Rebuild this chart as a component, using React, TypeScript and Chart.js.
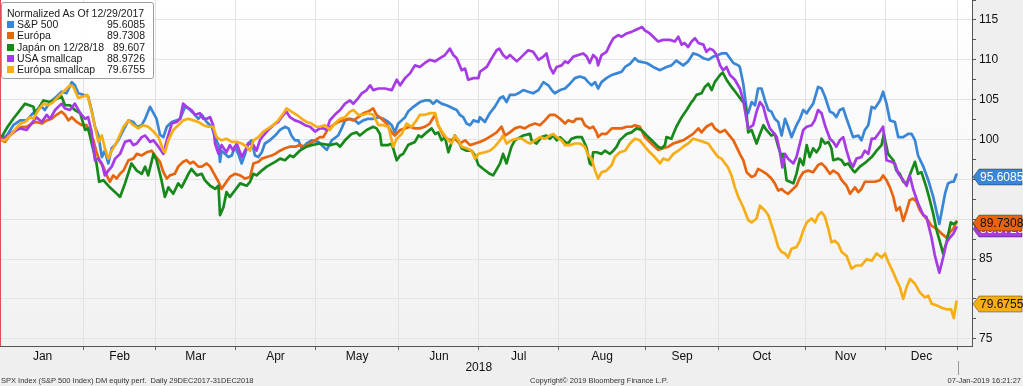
import React, { useEffect, useRef } from "react";
import { Chart, registerables } from "chart.js";

Chart.register(...registerables);

// ---------------- data (x = trading-day index from 29-Dec-2017, y = normalized level) -------------
const sp500: [number, number][] = [
  [0,100],[1.8,100.5],[3.5,101.8],[5.3,102.4],[7,102.4],[8.3,103.1],[9.6,103.7],[11,104.1],[11.8,103.7],[13.2,104.7],[14.9,105.4],[16.2,106],[17.5,105.8],[18.9,107.2],[19.7,106.8],[20.6,105.8],[21.9,105.6],[23.2,105.4],[24.1,103.7],[25,101.6],[25.9,100.5],[26.8,97.8],[27.6,98.6],[28.5,97],[29.4,98.9],[30.3,99.3],[31.1,99.9],[32.5,101.2],[33.8,102.4],[35.1,102.2],[36,101.6],[37.3,101.8],[38.2,102.6],[39.5,104.1],[40.4,103.3],[41.2,102.6],[42.1,100.6],[43,100.3],[43.9,101.6],[45.2,102.2],[46.5,102.4],[47.4,102.6],[48.7,104.1],[49.6,103.9],[50.9,103.3],[52.2,102.6],[53.1,103.1],[54.4,102.2],[55.7,101.6],[56.6,100.3],[57.5,99.3],[57.9,97.2],[58.3,98.6],[59.2,98.2],[60.1,97.8],[61,98],[61.8,99.1],[62.7,98.2],[63.6,97],[64.5,98.2],[65.3,99.5],[66.2,99.9],[67.1,98],[68,97.8],[68.9,98.4],[69.7,99.5],[71,99.9],[72.4,100.5],[73.7,101.2],[75,101.6],[75.9,101.4],[76.7,100.5],[77.6,99.9],[78.5,99.9],[79.4,98.9],[80.7,99.5],[82,99.9],[83.8,99.7],[84.2,99.5],[86,98.7],[87.3,99.9],[89,100.5],[89.9,101.4],[90.8,102.4],[92.1,102.6],[93.4,102.4],[94.3,102],[95.6,102.4],[96.9,102.6],[98.2,102.6],[99.6,102.8],[100.9,102.6],[102.2,102.2],[103.1,101.8],[103.9,100.9],[104.8,102],[105.7,102.4],[106.6,102.8],[107.4,103.5],[108.8,104.1],[110.5,104.7],[111.8,104.9],[113.1,104.9],[114,104.5],[114.9,104.9],[116.2,104.5],[117.5,104.3],[118.4,104.1],[119.3,103.9],[120.2,103.7],[121,103.1],[121.9,102.8],[122.8,102],[123.7,101.8],[124.6,102.4],[125.9,102.2],[126.3,102.8],[127.6,102.2],[128.9,103.3],[130.2,104.1],[131.6,105.2],[132.4,105.4],[133.3,104.7],[134.2,105.6],[135.5,105.6],[136.4,105.8],[137.7,106.2],[139,106],[140.3,105.8],[141.7,106.2],[143,107.2],[144.3,106.8],[145.2,106.2],[146,105.8],[147.4,106.2],[148.7,106.4],[150,107],[151.3,107.7],[152.6,107.9],[153.9,107.7],[154.8,107.2],[155.7,106.8],[156.6,107.2],[157.4,106.4],[158.3,107.2],[159.6,107.7],[161,108.1],[162.3,108.3],[163.6,108.5],[164.5,109.1],[165.8,109.5],[167.1,110.2],[168,109.8],[170.2,109.6],[171.9,109.1],[173.7,108.7],[175.4,109.1],[176.7,109.3],[178,109.9],[179.8,109.3],[181.1,109.8],[182.4,110.8],[183.8,110.6],[185.1,110.2],[186.4,110],[187.7,110.4],[189,110.6],[189.9,110.8],[191.2,110.8],[192.1,110.2],[193,109.6],[194.3,109.3],[194.7,109.1],[195.6,107],[196.5,103.7],[196.9,103.3],[197.8,104.7],[198.7,104.3],[199.5,106.4],[200.4,106.4],[201.3,104.9],[202.2,103.7],[203,103.5],[203.9,102.6],[204.8,102.2],[205.7,100.5],[206.6,102.6],[207.4,101.6],[208.3,100.3],[209.6,101.8],[210.5,102.6],[211.4,103.7],[212.3,103.3],[213.1,103.9],[214,104.5],[215.3,106.6],[216.2,106.4],[217.1,105.4],[218.4,103.5],[219.3,103.3],[220.1,102.8],[221,103.7],[221.9,103.9],[222.8,102.6],[223.7,101.4],[224.5,100.3],[225.9,100.5],[226.7,99.9],[227.6,101.2],[228.5,101.8],[229.4,104.1],[230.2,103.9],[231.6,104.9],[232.4,106],[233.3,104.5],[234.2,102.4],[235.5,102.2],[236.4,100.3],[237.7,100.3],[239,100.7],[239.9,100.7],[240.8,99.9],[241.6,98],[243,96.6],[244.3,94.9],[245.6,92.8],[247.2,89.4],[247.8,90.9],[248.7,93.2],[249.5,94.5],[250.4,94.7],[251,94.7],[251.7,95.6085]
];

const europa: [number, number][] = [
  [0,100],[1.3,99.7],[2.6,100.5],[4.4,101.2],[5.7,101.6],[7,101.6],[8.3,102],[9.6,102.2],[11,102],[12.3,102.4],[13.6,102.6],[14.9,103.1],[16.2,103.5],[17.1,103.1],[18,102.4],[18.9,102.8],[20.2,102.2],[21.5,101.8],[22.8,101.8],[23.7,100.7],[24.6,99.9],[25.4,98.4],[26.3,97.2],[27.2,96.6],[28.1,95.5],[28.9,94.7],[29.8,95.5],[30.7,95.1],[31.6,95.7],[32.5,96.1],[33.8,97.4],[35.1,97.6],[36,98.2],[37.3,98],[38.6,98.4],[39.9,98.6],[40.8,98],[42.1,97.2],[43,95.9],[43.9,95.1],[44.7,95.5],[46,95.7],[46.9,96.6],[48.2,97.2],[49.1,97.4],[50,97],[50.9,97.2],[52.2,96.6],[53.1,96.6],[54.4,97],[55.3,96.6],[56.1,95.9],[57.5,94.7],[58.3,93.8],[59.6,94.7],[60.5,95.3],[61.8,95.7],[63.2,95.5],[64.5,95.1],[65.8,95.3],[66.7,97],[68,97.2],[68.9,97.6],[70.2,97.8],[71.5,98],[72.4,98.2],[73.7,98.6],[75,98.9],[76.3,99.1],[77.6,99.1],[78.9,99.3],[80.3,99.1],[81.6,99.5],[82.9,99.9],[84.2,100.3],[85.1,100.3],[86.4,101.4],[87.7,101.8],[89,102.2],[90.3,102.4],[91.7,102.6],[93,102.4],[94.3,102.8],[95.6,103.3],[96.9,103.5],[98.2,103.9],[99.1,103.1],[100.4,102.6],[101.7,102],[103.1,100.9],[103.9,100.5],[105.3,101.2],[106.6,101.4],[107.9,101.6],[109.2,101.4],[110.5,101.4],[111.8,101.6],[113.1,102],[114.5,103.1],[115.3,101.8],[116.7,100.5],[117.5,100.1],[118.9,99.9],[119.7,100.1],[121,99.5],[122.4,99.9],[123.7,99.3],[125,99.5],[126.3,99.7],[128.1,100.1],[129.4,100.5],[130.7,100.9],[132,101.6],[132.9,100.5],[134.2,100.9],[135.5,101.4],[136.8,101.6],[138.1,101.4],[139.5,101.8],[140.8,102],[142.1,101.8],[143.4,102.4],[144.7,103.1],[146,103.1],[147.4,102.6],[148.7,102],[149.5,102.4],[150.9,102.2],[151.7,102.6],[153.1,102.6],[153.9,101.8],[155.2,101.4],[156.1,101.6],[157,100.9],[157.4,100.3],[158.3,100.7],[159.6,100.7],[161,101.4],[162.3,101.4],[163.6,101.4],[164.9,101.6],[166.2,101.6],[167.1,101.8],[168.4,101.6],[169.7,100.3],[171,99.7],[172.3,99.1],[173.2,98.7],[174.5,98.9],[175.9,99.1],[177.2,99.5],[178.5,99.7],[179.8,99.9],[181.1,100.3],[182.4,100.7],[183.8,101.4],[184.6,100.9],[185.9,101.6],[187.3,102],[188.1,101.4],[189.5,100.9],[190.8,101.2],[191.6,100.7],[193,99.9],[193.8,99.1],[194.7,98.2],[195.6,97.4],[196.5,95.9],[197.8,95.3],[198.7,95.5],[199.5,96.3],[200.4,96.1],[201.7,95.7],[203,95.1],[203.9,94.5],[204.8,93.6],[205.7,93.8],[206.6,93.4],[207.4,93.2],[208.3,93.6],[209.6,94.2],[210.5,95.2],[211.4,95.9],[212.7,96.1],[214,95.9],[215.3,96.8],[216.2,97],[217.1,96.6],[218.4,95.7],[219.3,96.1],[220.6,95.7],[221.5,94.9],[222.8,94.2],[223.7,93.2],[225,94],[225.9,93.4],[226.7,93.8],[227.6,94.7],[228.9,94.7],[230.2,94.7],[231.6,94.9],[232.4,95.5],[233.3,94.9],[234.2,94],[235.1,92.8],[235.9,91.1],[236.8,91.5],[237.7,89.8],[238.6,91.1],[239.4,92.4],[240.3,92.6],[241.2,92.2],[242.1,91.1],[243.4,90.3],[244.3,89.8],[245.1,89.2],[246.5,88.8],[247.8,88.2],[249.1,87.7],[250,88.4],[250.9,88.8],[251.7,89.7308]
];

const japan: [number, number][] = [
  [0,100],[2,101.6],[3.5,102.6],[6.6,104.5],[8.8,104.1],[9.2,103.1],[11.4,104.9],[13.2,104.7],[16.2,105.4],[17.1,104.3],[18.4,104.3],[19.7,103.7],[21.1,103.3],[22.4,101.2],[23.2,101.4],[25.4,97],[26.1,94.7],[27.2,94.9],[28.9,94],[30.3,93.4],[31.6,92.8],[32.9,94.5],[34.6,97],[36,96.1],[37.3,95.7],[38.2,96.6],[39,95.5],[40.4,98.2],[41.2,97.4],[42.5,94.9],[43.4,92.8],[44.3,94],[45.6,93.2],[46.9,94.5],[47.8,94],[49.6,95.7],[50.4,96.3],[51.8,95.5],[53.1,95.7],[53.9,94.9],[55.3,94.2],[56.6,93.8],[57.5,94.2],[57.9,90.5],[58.8,91.5],[59.6,93.4],[60.5,92.8],[61.8,93.6],[63.2,94.5],[64.9,94.2],[65.8,94.7],[66.7,95.7],[67.5,95.5],[68.9,96.1],[70.2,96.6],[72.4,97.2],[73.7,97.6],[75,97.4],[76.3,98],[77.2,97.8],[78.9,98.6],[80.7,99.1],[82,99.3],[84.2,99.5],[86.8,99.3],[88.6,99.5],[89.5,99.1],[90.8,99.9],[92.5,100.7],[93.8,100.9],[94.7,100.5],[96.5,101.2],[98.2,101.6],[99.1,101.4],[100,100.7],[100.4,99.3],[102.2,99.3],[103.1,99.5],[104.4,97.4],[105.3,98],[106.1,98.2],[107.4,99.3],[109.2,99.7],[110.1,100.5],[110.9,100.3],[112.3,100.9],[113.6,101.4],[114.5,100.7],[115.3,100.9],[116.2,99.9],[117.1,100.3],[118,98.4],[118.9,99.7],[119.7,100.5],[120.6,99.9],[121.5,98.9],[122.8,98.6],[124.1,98.6],[125,98],[125.9,96.8],[127.2,96.3],[128.9,95.7],[129.8,95.5],[131.6,97],[132.4,98.2],[133.3,97],[134.6,99.1],[135.5,99.9],[137.7,100.5],[139.5,100.7],[139.9,99.9],[141.2,99.5],[142.5,100.3],[143.8,100.5],[144.7,100.1],[145.6,100.5],[146.5,99.9],[147.4,100.3],[148.7,99.7],[149.5,99.5],[150.4,100.1],[151.7,100.3],[153.1,100.3],[153.9,99.5],[154.4,98.9],[155.2,97],[155.7,96.8],[156.1,98.4],[157,98.4],[158.3,98.2],[159.2,98.6],[160.5,98.2],[161.4,98.6],[162.3,99.1],[163.1,99.9],[164,100.3],[164.9,100.7],[166.2,100.9],[167.5,101.4],[168.8,101.2],[170.2,100.5],[171.5,99.9],[173.2,99.1],[174.1,98.9],[175,99.3],[175.4,100.3],[176.7,100.1],[177.2,100.7],[178,101.6],[179.4,102.8],[180.7,103.7],[182,104.7],[182.4,104.9],[183.3,105.6],[184.6,105.8],[185.5,106.6],[186.4,107],[187.3,106.2],[188.1,107.2],[189.5,108.1],[190.2,108.4],[191.2,107.5],[192.5,106.6],[193.8,105.8],[195.2,104.9],[196,104.5],[196.5,103.1],[196.9,100.9],[197.8,101.2],[199.1,99.5],[200,100.7],[200.9,101.8],[201.7,101.2],[203,100.5],[203.9,100.7],[204.8,99.1],[205.7,97.8],[206.1,98.2],[207,94.9],[208.8,94.5],[209.6,95.7],[210.5,97.6],[211.4,96.8],[212.3,99.3],[213.1,97.8],[214,98.9],[214.9,98.4],[215.8,99.1],[216.2,100.1],[217.1,99.5],[218,99.7],[218.8,98.9],[219.3,97.4],[220.6,97.6],[221.5,97.4],[222.3,96.8],[223.2,97],[224.5,96.1],[225,95.9],[226.3,96.6],[228,97.2],[229.4,97.8],[230.7,98.6],[232,99.3],[232.6,100.7],[233.7,98.2],[235.1,97.4],[235.9,96.1],[236.8,95.7],[237.7,94.7],[238.6,94.5],[239.9,96.1],[240.8,97.2],[241.6,95.7],[242.5,95.9],[243.8,94],[244.7,92.4],[245.6,90.7],[246.5,88.6],[247.4,87.1],[248.2,85.7],[249.1,87.1],[250.2,89.6],[250.9,89.4],[251.7,89.607]
];

const usaSmall: [number, number][] = [
  [0,100],[1.8,100.3],[3.5,101],[5.3,101.4],[7,101.2],[8.3,102],[9.6,102.8],[11,102.2],[12.3,103.1],[13.2,102.6],[14.5,103.7],[16.2,104.5],[17.1,103.9],[18.4,103.7],[19.7,104.5],[21.1,103.3],[22.4,102.6],[23.2,102.8],[24.1,101],[25,97.4],[25.9,97.6],[26.8,97],[27.6,95.5],[28.5,96.1],[29.4,96.6],[30.3,97.6],[31.6,98.2],[32.9,99.7],[34.2,99.9],[35.1,99.3],[36,99.5],[37.3,100.3],[38.2,100.5],[39.5,99.7],[40.4,99.9],[41.7,99.1],[43,98.2],[43.9,99.9],[45.2,102],[46.5,102.2],[47.4,102.6],[48.2,104.5],[49.1,104.1],[50.4,103.7],[51.3,103.1],[52.6,103.3],[53.5,102.6],[54.4,102.6],[55.3,102.8],[56.1,101.8],[56.6,99.5],[57.5,98.2],[58.3,99.3],[59.6,98.4],[60.5,99.3],[61.4,98.6],[62.3,99.5],[63.6,97.8],[64.5,98.6],[65.3,99.5],[66.7,99.3],[67.5,98.6],[68.4,99.9],[69.3,100.5],[70.6,101.2],[71.9,101.8],[73.2,102.2],[74.6,103.1],[75.4,103.5],[76.3,102.8],[77.6,102.4],[78.9,102.2],[80.3,101.8],[81.6,101.6],[82.9,101],[84.2,101.4],[85.1,101.4],[86,101.2],[86.8,102.4],[88.1,103.1],[89.5,103.7],[90.8,104.5],[92.1,104.9],[93,104.5],[94.3,105.2],[95.2,105.8],[96.5,106.2],[97.4,106.8],[98.2,106.2],[99.6,106.4],[101.3,106.4],[103.1,106.2],[104.4,107.5],[105.3,106.8],[106.6,107.7],[107.9,108.3],[109.2,109.3],[110.5,109.1],[111.8,109.6],[113.1,110],[114.5,109.8],[115.8,110.2],[117.1,110.6],[118.4,111.4],[119.3,110.6],[120.2,110.2],[121.5,108.7],[122.4,108.9],[123.2,107.5],[124.6,107.7],[125.9,107.7],[126.3,108.5],[128.1,109.1],[129.4,110.2],[130.7,111.2],[131.4,111.4],[132.4,110.6],[133.3,110.2],[134.2,110.6],[136,109.8],[137.3,110.4],[139,111.2],[140.3,111],[141.7,110],[143,110.4],[143.8,110.8],[144.7,109.1],[145.6,108.3],[146.5,109.1],[147.8,109.3],[148.7,109.8],[149.5,109.6],[150.9,110.4],[152.2,110.6],[153.5,110.8],[154.4,110.4],[155.2,109.6],[156.1,110.6],[157,110.2],[157.4,109.3],[158.3,110.6],[159.6,111],[160.5,111.9],[161.4,112.7],[162.7,113.1],[163.6,112.9],[164.9,113.3],[166.2,113.5],[167.1,113.7],[169,114.1],[169.7,113.7],[171,113.3],[172.3,112.7],[173.2,112.3],[174.5,112.5],[176.3,112.5],[177.6,112.3],[178.5,112.9],[179.4,111.9],[180.2,112.1],[181.1,111.6],[182,112.3],[182.9,112.7],[183.8,112.1],[185.1,111.9],[185.9,111],[186.8,111.4],[187.7,111.2],[188.6,110.6],[189.5,109.3],[190.3,108.7],[191.2,109.1],[192.1,108.1],[193.4,107.5],[194.7,106.4],[195.6,104.9],[196.5,102.4],[196.9,101.4],[198.2,101.8],[199.1,103.5],[200,104.7],[200.9,104.1],[201.7,102.6],[202.6,101.4],[203.5,100.9],[204.4,100.3],[205.2,98.6],[205.9,96.5],[206.6,98.2],[207.4,97.6],[208.8,97],[209.6,97.8],[211.4,101.2],[212.3,101.6],[213.6,101.8],[214.4,102.4],[215.3,103.7],[216.2,103.3],[217.1,101.8],[218.4,100.1],[219.3,99.7],[220.1,99.1],[221,99.9],[221.9,100.3],[222.8,98.6],[223.7,97.2],[224.5,96.6],[225.4,97.6],[226.7,97.8],[227.6,98.6],[228.5,98.2],[229.4,100.1],[230.2,100.1],[231.6,101],[232.4,101.6],[233.3,97.4],[234.6,97.2],[235.5,97],[236.4,95.7],[237.7,94.9],[238.6,94.2],[239.4,95.5],[240.3,93.8],[241.6,92],[243,90.5],[243.8,90.3],[245.1,87.8],[246,85.5],[247.2,83.3],[248.2,85.2],[249.1,87.1],[250,87.7],[250.9,88.2],[251.7,88.9726]
];

const europaSmall: [number, number][] = [
  [0,100],[1.3,99.9],[2.6,100.5],[3.9,101.2],[5.3,102],[6.6,102.2],[7.9,102.8],[8.8,102.6],[10.1,103.7],[11.4,104.5],[12.7,104.3],[14,104.7],[15.4,105.4],[17.1,106.2],[18.4,106.8],[19.3,106.6],[20.6,105.2],[21.9,105.4],[23,105.6],[23.9,103.9],[25,101.6],[25.9,99.7],[26.8,100.5],[27.6,98.9],[28.5,97.6],[29.4,98.6],[30.3,99.3],[31.1,100.1],[32.5,101.6],[33.8,102.4],[35.1,101.8],[36.4,101.4],[37.7,101.8],[39,101.6],[40.4,101],[41.7,100.3],[43,98.6],[43.4,98.4],[44.3,99.9],[45.6,101.2],[46.9,101.8],[48.2,102.4],[49.6,102.6],[50.9,102.4],[52.2,102.2],[53.5,101.8],[54.8,101.6],[56.1,101.6],[57,100.3],[58.3,99.9],[59.6,100.1],[61,99.7],[62.3,99.7],[63.6,99.5],[64.9,99.1],[65.8,98.6],[66.7,99.9],[68,100.3],[69.3,101],[70.6,101.4],[71.9,101.8],[73.2,102.4],[74.6,103.3],[75.4,103.9],[76.7,103.5],[78.1,103.1],[79.4,102.6],[80.7,102.2],[82,102],[83.3,101.6],[84.2,101.6],[85.5,101.8],[86.8,101.2],[88.1,102],[89.5,102.6],[90.8,102.8],[92.1,103.5],[93,103.7],[94.3,103.1],[95.6,103.1],[96.9,103.3],[98.2,103.1],[99.6,101.8],[100.9,101.8],[102.2,101.6],[103.5,99.1],[104.4,100.1],[105.7,100.7],[107,102],[108.3,101.6],[109.6,102.4],[110.5,103.1],[111.8,103.1],[113.1,103.3],[114.5,103.3],[115.3,101.8],[116.7,100.7],[118,99.9],[118.9,99.5],[119.7,100.5],[120.6,99.9],[121.5,99.1],[122.8,98.9],[124.1,98.6],[125,97.6],[125.9,98.2],[127.6,98.4],[128.9,98.6],[130.2,99.1],[131.6,99.9],[132.4,100.5],[133.3,99.5],[134.6,99.9],[135.9,100.1],[137.3,100.1],[138.6,99.7],[139.5,99.5],[140.8,99.9],[142.1,100.3],[143.4,100.1],[144.7,100.5],[145.6,100.7],[146.5,100.3],[147.8,99.9],[148.7,99.3],[150,99.3],[151.3,99.5],[152.6,99.5],[153.9,99.1],[154.8,98],[155.7,97.6],[156.6,96.1],[157.4,95.1],[158.3,95.9],[159.6,96.1],[161,96.8],[161.8,97.8],[163.1,98.4],[164.5,98.6],[165.8,99.5],[167.1,100.1],[168.4,99.9],[169.7,99.1],[171,98.4],[172.3,97.8],[173.7,97],[174.5,97.6],[175.9,97.4],[177.2,98.2],[178.5,98.6],[179.8,99.1],[181.1,99.5],[182.4,100.1],[183.8,99.9],[185.1,99.7],[186.4,99.5],[187.7,98.6],[189,97.8],[189.9,97.6],[190.8,97],[191.6,96.5],[192.5,95.5],[193.4,94],[194.3,92.8],[195.6,91.5],[196.9,89.9],[197.8,89.6],[199.1,90.1],[200,91.7],[201.3,91.1],[202.2,90.5],[203.1,89.2],[203.9,88],[204.8,86.5],[205.7,85.9],[206.6,85.7],[207.4,85.2],[208.3,86.3],[209.6,86.5],[210.5,87.3],[211.4,88.6],[212.3,89.6],[213.6,90.1],[214.5,89.6],[215.3,90.5],[216.2,90.9],[217.1,90.3],[218,88.8],[218.8,87.1],[219.7,87.3],[220.6,86.9],[221.5,85.9],[222.8,85.4],[224.1,83.8],[225.4,84.2],[226.7,84.2],[228.1,85],[229.4,84.8],[230.7,85.7],[232,85.2],[232.9,85.7],[233.8,84.6],[235.1,83.3],[236,82.3],[236.8,81.5],[237.7,80],[238.6,81.5],[239.5,82.5],[240.8,81.9],[242.1,80.8],[243.4,80.2],[244.3,80.4],[245.2,79.4],[246.5,79.2],[247.8,78.9],[249.1,78.7],[250.3,78.7],[251,77.6],[251.7,79.6755]
];

const seriesNames = ["S&P 500", "Európa", "Japán on 12/28/18", "USA smallcap", "Európa smallcap"];
const seriesLast = ["95.6085", "89.7308", "89.607", "88.9726", "79.6755"];
const seriesColors = ["#3a86d6", "#e8650f", "#17891b", "#a63be6", "#f7ae16"];
const badgeText = ["#ffffff", "#111111", "#ffffff", "#ffffff", "#111111"];

const monthLabels = ["Jan", "Feb", "Mar", "Apr", "May", "Jun", "Jul", "Aug", "Sep", "Oct", "Nov", "Dec"];
const monthStarts = [22, 41, 62, 83, 105, 126, 147, 170, 189, 212, 233, 252];
const monthCenters = [11.2, 31.5, 51.5, 72.5, 94, 115.5, 136.5, 158.5, 179.5, 200.5, 222.5, 242.5];
const yTickValues = [75, 77.5, 80, 82.5, 85, 87.5, 90, 92.5, 95, 97.5, 100, 102.5, 105, 107.5, 110, 112.5, 115, 117.5];
const yGridValues = [75, 80, 85, 90, 95, 100, 105, 110, 115];
const yLabelValues = [75, 85, 95, 100, 105, 110, 115];
const yearLabel = "2018";
const yearAt = 126;

const FONT = '"Liberation Sans", Arial, sans-serif';

export default function App() {
  const ref = useRef<HTMLCanvasElement | null>(null);

  useEffect(() => {
    const canvas = ref.current;
    if (!canvas) return;
    const all = [sp500, europa, japan, usaSmall, europaSmall];

    const decor = {
      id: "decor",
      beforeDraw(chart: any) {
        const { ctx, chartArea: a } = chart;
        ctx.save();
        const g = ctx.createLinearGradient(0, a.top, 0, a.bottom);
        g.addColorStop(0, "#ffffff");
        g.addColorStop(1, "#f1f1f1");
        ctx.fillStyle = g;
        ctx.fillRect(a.left, a.top, a.right - a.left, a.bottom - a.top);
        ctx.restore();
      },
      afterDraw(chart: any) {
        const { ctx, chartArea: a } = chart;
        const xs = chart.scales.x;
        const ys = chart.scales.y;
        ctx.save();
        ctx.strokeStyle = "#e05050";
        ctx.lineWidth = 1;
        ctx.beginPath();
        ctx.moveTo(a.left + 0.5, a.top);
        ctx.lineTo(a.left + 0.5, a.bottom);
        ctx.stroke();
        const mx = Math.round(xs.getPixelForValue(252)) + 0.5;
        ctx.strokeStyle = "#9a9a9a";
        ctx.beginPath();
        ctx.moveTo(mx, 361);
        ctx.lineTo(mx, 375);
        ctx.stroke();
        ctx.fillStyle = "#111";
        ctx.font = "12px " + FONT;
        ctx.textAlign = "center";
        ctx.textBaseline = "middle";
        ctx.fillText(yearLabel, xs.getPixelForValue(yearAt), 368);
        const order = [4, 2, 3, 1, 0];
        for (const i of order) {
          const yv = parseFloat(seriesLast[i]);
          const y = Math.round(ys.getPixelForValue(yv)) + 2;
          const x0 = a.right + 1;
          const x1 = 1022;
          const h = 8;
          ctx.beginPath();
          ctx.moveTo(x0, y);
          ctx.lineTo(x0 + 6, y - h);
          ctx.lineTo(x1, y - h);
          ctx.lineTo(x1, y + h);
          ctx.lineTo(x0 + 6, y + h);
          ctx.closePath();
          ctx.fillStyle = seriesColors[i];
          ctx.fill();
          ctx.strokeStyle = "rgba(0,0,0,0.35)";
          ctx.lineWidth = 1;
          ctx.stroke();
          ctx.fillStyle = badgeText[i];
          ctx.font = "12px " + FONT;
          ctx.textAlign = "left";
          ctx.textBaseline = "middle";
          ctx.fillText(seriesLast[i], x0 + 7, y + 0.5);
        }
        ctx.restore();
      },
    };

    const chart = new Chart(canvas, {
      type: "line",
      data: {
        datasets: all.map((s, i) => ({
          label: seriesNames[i],
          data: s.map(([x, y]) => ({ x, y })),
          borderColor: seriesColors[i],
          backgroundColor: seriesColors[i],
          borderWidth: 2.7,
          pointRadius: 0,
          tension: 0,
          borderJoinStyle: "round" as const,
          borderCapStyle: "round" as const,
          order: 5 - i,
          xAxisID: "x",
          yAxisID: "y",
        })),
      },
      options: {
        responsive: false,
        animation: false,
        devicePixelRatio: 1,
        layout: { padding: 0 },
        plugins: { legend: { display: false }, tooltip: { enabled: false } },
        scales: {
          x: {
            type: "linear",
            position: "bottom",
            min: 0,
            max: 255.8,
            afterBuildTicks: (s: any) => {
              s.ticks = monthStarts.map((v) => ({ value: v }));
            },
            afterFit: (s: any) => {
              s.height = 0;
              s.paddingLeft = 0;
              s.paddingRight = 0;
            },
            ticks: { display: false },
            grid: { color: "#e2e2e2", lineWidth: 1, drawTicks: true, tickLength: 4, tickColor: "#666" },
            border: { display: true, color: "#555", width: 1 },
          },
          xm: {
            type: "linear",
            position: "bottom",
            min: 0,
            max: 255.8,
            afterBuildTicks: (s: any) => {
              s.ticks = monthCenters.map((v) => ({ value: v }));
            },
            afterFit: (s: any) => {
              s.height = 40;
              s.paddingLeft = 0;
              s.paddingRight = 0;
            },
            ticks: {
              autoSkip: false,
              maxRotation: 0,
              padding: 3,
              color: "#111",
              font: { family: FONT, size: 12 },
              callback: (_v: any, i: number) => monthLabels[i],
            },
            grid: { display: false, drawTicks: false },
            border: { display: false },
          },
          y: {
            type: "linear",
            position: "right",
            min: 74.1,
            max: 117.5,
            afterBuildTicks: (s: any) => {
              s.ticks = yTickValues.map((v) => ({ value: v }));
            },
            afterFit: (s: any) => {
              s.width = 51;
              s.paddingTop = 0;
              s.paddingBottom = 0;
            },
            ticks: {
              autoSkip: false,
              padding: 3,
              color: "#111",
              font: { family: FONT, size: 12 },
              callback: (v: any) => (yLabelValues.includes(Number(v)) ? String(v) : ""),
            },
            grid: {
              color: (c: any) => (c.tick && yGridValues.includes(c.tick.value) ? "#e4e4e4" : "rgba(0,0,0,0)"),
              drawTicks: true,
              tickLength: 4,
              tickColor: "#555",
            },
            border: { display: true, color: "#555", width: 1 },
          },
        },
      } as any,
      plugins: [decor],
    });
    return () => chart.destroy();
  }, []);

  const legendRow = (i: number) => (
    <div key={i} style={{ display: "flex", alignItems: "center", height: 11.2, lineHeight: "11.2px", whiteSpace: "nowrap" }}>
      <span style={{ display: "inline-block", width: 7, height: 7, background: seriesColors[i], marginRight: 3 }} />
      <span style={{ flex: 1 }}>{seriesNames[i]}</span>
      <span>{seriesLast[i]}</span>
    </div>
  );

  return (
    <div style={{ position: "absolute", left: 0, top: 0, width: 1023, height: 386, background: "#efefef", overflow: "hidden", fontFamily: FONT }}>
      <canvas ref={ref} width={1023} height={386} style={{ position: "absolute", left: 0, top: 0, width: 1023, height: 386 }} />
      <div
        style={{
          position: "absolute",
          left: 1,
          top: 2,
          width: 153,
          height: 77,
          boxSizing: "border-box",
          border: "1px solid #9c9c9c",
          borderRadius: 3,
          background: "rgba(255,255,255,0.92)",
          padding: "5px 8px 0 5px",
          fontSize: 10.5,
          color: "#1a1a1a",
        }}
      >
        <div style={{ height: 11.2, lineHeight: "11.2px", whiteSpace: "nowrap" }}>Normalized As Of 12/29/2017</div>
        {[0, 1, 2, 3, 4].map(legendRow)}
      </div>
      <div style={{ position: "absolute", left: 1, top: 376, fontSize: 7.5, color: "#333", whiteSpace: "nowrap" }}>
        SPX Index (S&amp;P 500 Index) DM equity perf.&nbsp; Daily 29DEC2017-31DEC2018
      </div>
      <div style={{ position: "absolute", left: 530, top: 376, fontSize: 7.5, color: "#333", whiteSpace: "nowrap" }}>
        Copyright© 2019 Bloomberg Finance L.P.
      </div>
      <div style={{ position: "absolute", right: 2, top: 376, fontSize: 7.5, color: "#333", whiteSpace: "nowrap" }}>
        07-Jan-2019 16:21:27
      </div>
    </div>
  );
}
